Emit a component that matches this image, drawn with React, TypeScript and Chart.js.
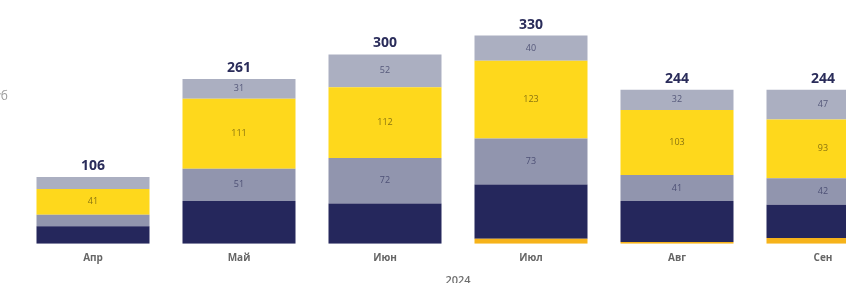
import React, { useEffect, useRef } from "react";
import { Chart, registerables } from "chart.js";

Chart.register(...registerables);

const months = ["Апр", "Май", "Июн", "Июл", "Авг", "Сен"];
const yearLabel = "2024";
const unitLabel = "млрд руб";

const orangeBase = [0, 0, 0, 8, 3, 9];
const navy = [28, 68, 64, 86, 65, 53];
const midGray = [18, 51, 72, 73, 41, 42];
const yellow = [41, 111, 112, 123, 103, 93];
const topGray = [19, 31, 52, 40, 32, 47];

const COLORS = {
  orange: "#f6b31a",
  navy: "#25275c",
  midGray: "#9195ae",
  yellow: "#fed81c",
  topGray: "#abafc1",
};

const labelPlugin = {
  id: "labelPlugin",
  afterDatasetsDraw(chart: any) {
    const ctx = chart.ctx;
    ctx.save();
    chart.data.datasets.forEach((ds: any, di: number) => {
      if (!ds.showLabels) return;
      const meta = chart.getDatasetMeta(di);
      meta.data.forEach((bar: any, i: number) => {
        const h = Math.abs(bar.base - bar.y);
        if (h < 14) return;
        ctx.font = "500 9px 'Open Sans', sans-serif";
        ctx.fillStyle = ds.labelColor;
        ctx.textAlign = "center";
        ctx.textBaseline = "middle";
        ctx.fillText(String(ds.data[i]), bar.x, (bar.y + bar.base) / 2);
      });
    });
    const lastMeta = chart.getDatasetMeta(chart.data.datasets.length - 1);
    const yScale = chart.scales.y;
    months.forEach((_, i) => {
      const total = chart.data.datasets.reduce(
        (s: number, ds: any) => s + (ds.data[i] || 0),
        0
      );
      const x = lastMeta.data[i].x;
      const y = yScale.getPixelForValue(total);
      ctx.font = "bold 14px 'Open Sans', sans-serif";
      ctx.fillStyle = "#2a2c5a";
      ctx.textAlign = "center";
      ctx.textBaseline = "bottom";
      ctx.fillText(String(total), x, y - 4);
    });
    ctx.font = "12px 'Open Sans', sans-serif";
    ctx.fillStyle = "#9a9a9a";
    ctx.textAlign = "right";
    ctx.textBaseline = "middle";
    ctx.fillText(unitLabel, 8, 97);
    ctx.restore();
  },
};

export default function App() {
  const ref = useRef<HTMLCanvasElement | null>(null);

  useEffect(() => {
    if (!ref.current) return;
    const mk = (label: string, data: number[], color: string, showLabels: boolean, labelColor: string) => ({
      label,
      data,
      backgroundColor: color,
      borderWidth: 0,
      barPercentage: 0.774,
      categoryPercentage: 1,
      showLabels,
      labelColor,
    });
    const chart = new Chart(ref.current, {
      type: "bar",
      data: {
        labels: months,
        datasets: [
          mk("orange", orangeBase, COLORS.orange, false, "#000"),
          mk("navy", navy, COLORS.navy, false, "#fff"),
          mk("midGray", midGray, COLORS.midGray, true, "#4d5075"),
          mk("yellow", yellow, COLORS.yellow, true, "#8a7410"),
          mk("topGray", topGray, COLORS.topGray, true, "#55587a"),
        ] as any,
      },
      options: {
        responsive: false,
        animation: false,
        layout: { padding: { left: 20, right: 20, top: 4, bottom: 0 } },
        plugins: {
          legend: { display: false },
          tooltip: { enabled: false },
        },
        scales: {
          x: {
            stacked: true,
            grid: { display: false, drawTicks: false },
            border: { display: false },
            ticks: {
              padding: 8,
              color: "#666666",
              font: { size: 10, weight: "700", family: "'Open Sans', sans-serif" },
            },
            title: {
              display: true,
              text: yearLabel,
              color: "#6f6f6f",
              padding: { top: 2, bottom: 0 },
              font: { size: 11, weight: "600", family: "'Open Sans', sans-serif" },
            },
          },
          y: {
            stacked: true,
            display: false,
            min: 0,
            max: 380,
          },
        },
      },
      plugins: [labelPlugin],
    });
    return () => chart.destroy();
  }, []);

  return (
    <div
      style={{
        position: "absolute",
        left: 0,
        top: 0,
        width: 846,
        height: 283,
        overflow: "hidden",
        background: "#ffffff",
      }}
    >
      <canvas ref={ref} width={916} height={287} style={{ display: "block" }} />
    </div>
  );
}
